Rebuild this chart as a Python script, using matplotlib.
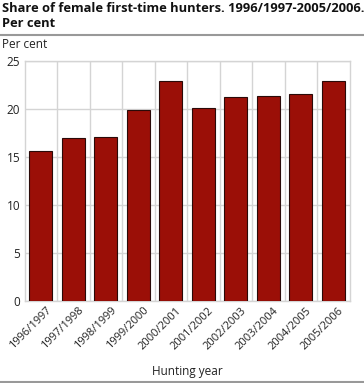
import matplotlib
matplotlib.use("Agg")
import matplotlib.pyplot as plt
from matplotlib.lines import Line2D

categories = ["1996/1997", "1997/1998", "1998/1999", "1999/2000", "2000/2001",
              "2001/2002", "2002/2003", "2003/2004", "2004/2005", "2005/2006"]
values = [15.6, 16.9, 17.1, 19.9, 22.9, 20.1, 21.2, 21.3, 21.5, 22.9]
yticks = [0, 5, 10, 15, 20, 25]

plt.rcParams["font.family"] = ["Open Sans", "DejaVu Sans"]

W, H = 364, 383
fig = plt.figure(figsize=(W / 100, H / 100), dpi=100)
ax = fig.add_axes([24.5 / W, 1 - 300.7 / H, 325 / W, 240 / H])

grid_c = "#d4d4d4"
x = list(range(len(categories)))
ax.bar(x, values, width=0.7, color="#9b0f07", edgecolor="#2a0a08", linewidth=0.8, zorder=3)
ax.set_xlim(-0.5, len(categories) - 0.5)
ax.set_ylim(0, 25)
ax.set_yticks(yticks)
ax.set_yticklabels([str(v) for v in yticks], fontsize=8.5, color="#222222")
ax.set_xticks([i + 0.15 for i in x])
ax.set_xticklabels(categories, rotation=45, ha="right", rotation_mode="anchor",
                   fontsize=8, color="#222222")
ax.set_xticks([i + 0.5 for i in x[:-1]], minor=True)
ax.grid(axis="y", color=grid_c, linewidth=1, zorder=0)
ax.grid(axis="x", which="minor", color=grid_c, linewidth=1, zorder=0)
ax.tick_params(axis="both", which="both", length=0, pad=3)
for s in ax.spines.values():
    s.set_color(grid_c)
    s.set_linewidth(1)

fig.text(2 / W, 1 - 2 / H, "Share of female first-time hunters. 1996/1997-2005/2006.\nPer cent",
         ha="left", va="top", fontsize=9.3, fontweight="bold", color="#111111", linespacing=1.2)
fig.add_artist(Line2D([0, 1], [1 - 34.5 / H] * 2, color="#999999", linewidth=1.5,
                      transform=fig.transFigure))
fig.text(2 / W, 1 - 45 / H, "Per cent", ha="left", va="center", fontsize=8.5, color="#222222")
fig.text(187 / W, 1 - 371 / H, "Hunting year", ha="center", va="center", fontsize=8.5, color="#222222")
fig.add_artist(Line2D([0, 1], [1 - 382 / H] * 2, color="#999999", linewidth=1.5,
                      transform=fig.transFigure))

fig.savefig("out.png", dpi=100)
